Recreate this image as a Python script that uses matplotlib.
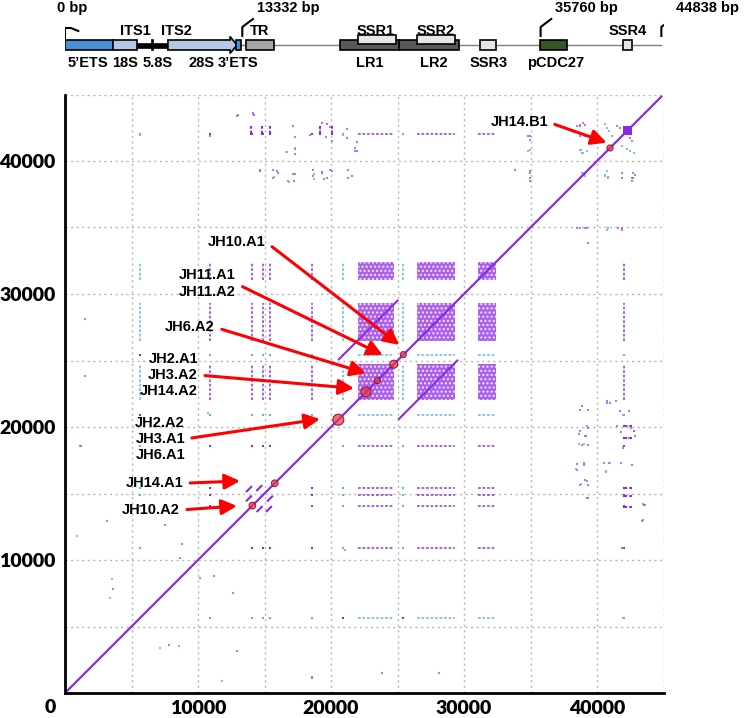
import numpy as np
import matplotlib.pyplot as plt
from matplotlib.patches import Rectangle, Polygon

plt.rcParams['font.family'] = ['Liberation Sans', 'DejaVu Sans']
plt.rcParams['hatch.linewidth'] = 1.0

PURPLE = '#8a2be2'
CYAN = '#5ab4e6'

seq_len = 44838

# rDNA unit map (bp)
feat_name = ["5’ETS", "18S", "ITS1", "5.8S", "ITS2", "28S", "3’ETS", "TR",
             "LR1", "LR2", "SSR1", "SSR2", "SSR3", "pCDC27", "SSR4"]
feat_start = [0, 3610, 5410, 6520, 6640, 7740, 12860, 13610,
              20680, 25110, 22030, 26470, 31200, 35720, 41950]
feat_end = [3610, 5410, 6520, 6640, 7740, 12930, 13230, 15710,
            25110, 29620, 24890, 29320, 32410, 37750, 42630]
flag_bp = [0, 13332, 35760, 44838]
flag_label = ['0 bp', '13332 bp', '35760 bp', '44838 bp']

# self dot plot structures (bp)
ssr_start = [22000, 26470, 31080]
ssr_end = [24750, 29330, 32400]
ssr4_range = [41950, 42630]

dup_x0 = [20600, 25100]
dup_y0 = [25100, 20600]
dup_x1 = [25000, 29500]
dup_y1 = [29500, 25000]

stripe_pos = [5640, 10900, 14060, 14890, 15410, 18570, 20900, 25400, 42000]
stripe_rc = [True, False, False, False, False, False, True, True, False]

tr_range = [13610, 15710]
tr_offsets = [-1500, -800, 800, 1500]

ssr4_hits = [13950, 14800, 15420, 19170, 20050]

scat_p_x = [10900, 12990, 14160, 14210, 17170, 17300, 18420, 19300, 19680, 21180,
            21180, 21810, 21940, 14660, 15660, 16040, 15660, 16790, 17170, 18670,
            18670, 19300, 19680, 19930, 21300, 21300, 33840, 34970, 34970, 38730,
            38980, 42490, 42610, 41860, 41860, 42740, 42740, 42610, 38480, 39230,
            41610, 41860, 38530, 39030, 39280, 38650, 39150, 39280, 39280, 38900,
            40530, 40910, 41530, 42280, 42410, 41790, 42540, 42790, 43540, 43410,
            41910, 41410, 40780, 1130, 3130, 3630, 8770, 10150, 12660, 18550,
            28120, 23860, 34840, 43640]
scat_p_y = [41940, 43470, 43640, 43470, 42640, 41810, 41960, 42830, 42750, 42390,
            41760, 41010, 40760, 39330, 39330, 39130, 38750, 38500, 39050, 39330,
            38880, 39130, 38750, 39330, 39330, 38700, 39310, 39100, 38700, 42640,
            42830, 41760, 41510, 39130, 38700, 39130, 38750, 38500, 34990, 34990,
            34990, 34990, 17200, 17320, 15940, 19450, 19330, 20080, 14690, 21580,
            17270, 17320, 20080, 20080, 19200, 19650, 19950, 19700, 14140, 12930,
            10930, 21960, 21830, 18570, 12930, 7800, 11180, 8670, 7540, 1230,
            1480, 1480, 41890, 43640]
scat_c_x = [5640, 20930, 17300, 16670, 34840, 38730, 38980, 40610, 40730, 41860,
            42240, 40730, 40610, 40860, 38870, 39120, 40860, 38400, 38780, 38650,
            39030, 40660, 3510, 3380, 10780, 880]
scat_c_y = [41940, 41940, 40960, 40700, 40760, 40810, 40630, 42770, 42510, 41130,
            40890, 39250, 38880, 38800, 39130, 39010, 34990, 16820, 15690, 18700,
            18700, 16620, 8550, 7170, 21030, 11800]

# mapped reads on the diagonal
hit_pos = [40980, 25440, 24720, 23490, 22640, 20550, 15770, 14090]

ann_text = ['JH14.B1', 'JH10.A1', 'JH11.A1\nJH11.A2', 'JH6.A2',
            'JH2.A1\nJH3.A2\nJH14.A2', 'JH2.A2\nJH3.A1\nJH6.A1', 'JH14.A1', 'JH10.A2']
ann_tip_x = [40730, 25140, 23890, 22630, 21730, 19170, 13160, 12930]
ann_tip_y = [41380, 26170, 25410, 24040, 22910, 20600, 15940, 14060]

fig = plt.figure(figsize=(7.48, 7.18), dpi=100)

# ---- dot plot ----
ax = fig.add_axes([65 / 748, 1 - 693 / 718, 598.5 / 748, 598.5 / 718])
ax.set_xlim(0, 45000)
ax.set_ylim(0, 45000)
ticks = np.arange(0, 45001, 5000)
ax.set_xticks(ticks)
ax.set_yticks(ticks)
labs = [str(t) if t % 10000 == 0 and t > 0 else '' for t in ticks]
tfont = dict(fontfamily='Lato', fontweight='heavy', fontsize=14)
ax.set_xticklabels(labs, **tfont)
ax.set_yticklabels(labs, **tfont)
ax.tick_params(axis='x', length=0, pad=5)
ax.tick_params(axis='y', length=0, pad=7)
ax.text(-0.024, -0.024, '0', transform=ax.transAxes, ha='center', va='center', **tfont)
ax.grid(True, color='#b5b5b5', lw=1, ls=(0, (1.5, 2.5)))
ax.set_axisbelow(True)
for s in ['top', 'right']:
    ax.spines[s].set_visible(False)
for s in ['left', 'bottom']:
    ax.spines[s].set_linewidth(2)

# SSR blocks
for i in range(3):
    for j in range(3):
        w = ssr_end[i] - ssr_start[i]
        h = ssr_end[j] - ssr_start[j]
        ax.add_patch(Rectangle((ssr_start[i], ssr_start[j]), w, h, fc='#9d45e6', ec='none', alpha=0.85))
        ax.add_patch(Rectangle((ssr_start[i], ssr_start[j]), w, h, fill=False, hatch='....',
                               ec='#f2e6fc', lw=0))
ax.add_patch(Rectangle((ssr4_range[0], ssr4_range[0]), ssr4_range[1] - ssr4_range[0],
                       ssr4_range[1] - ssr4_range[0], fc=PURPLE, ec='none'))

# stripes: short repeats found inside SSR blocks
for p, rc in zip(stripe_pos, stripe_rc):
    col = CYAN if rc else PURPLE
    for s, e in zip(ssr_start, ssr_end):
        ax.plot([p, p], [s, e], color=col, lw=1.3, ls=(0, (1.5, 1)), alpha=0.8)
        ax.plot([s, e], [p, p], color=col, lw=1.3, ls=(0, (1.5, 1)), alpha=0.8)
# crossings between stripe positions
for p1, r1 in zip(stripe_pos, stripe_rc):
    for p2, r2 in zip(stripe_pos, stripe_rc):
        if abs(p1 - p2) > 2000:
            ax.plot(p1, p2, 's', ms=2, mew=0, color=CYAN if r1 != r2 else PURPLE)

# TR hits inside SSR4
for p in ssr4_hits:
    ax.plot([p, p], ssr4_range, color=PURPLE, lw=1.5, ls=(0, (2, 1)))
    ax.plot(ssr4_range, [p, p], color=PURPLE, lw=1.5, ls=(0, (2, 1)))

# scattered matches
ax.plot(scat_p_x, scat_p_y, 's', ms=2, mew=0, color='#a855f7', alpha=0.8)
ax.plot(scat_p_y, scat_p_x, 's', ms=2, mew=0, color='#a855f7', alpha=0.8)
ax.plot(scat_c_x, scat_c_y, 's', ms=2, mew=0, color=CYAN, alpha=0.8)
ax.plot(scat_c_y, scat_c_x, 's', ms=2, mew=0, color=CYAN, alpha=0.8)

# TR tandem repeat dashes
for off in tr_offsets:
    x0 = max(tr_range[0], tr_range[0] - off)
    x1 = min(tr_range[1], tr_range[1] - off)
    ax.plot([x0, x1], [x0 + off, x1 + off], color=PURPLE, lw=1.5, ls=(0, (4, 3)))

# LR duplication
for a, b, c, d in zip(dup_x0, dup_y0, dup_x1, dup_y1):
    ax.plot([a, c], [b, d], color=PURPLE, lw=1.5)

# main diagonal
ax.plot([0, seq_len], [0, seq_len], color=PURPLE, lw=1.6)

# read hits
hit_r = [3, 3, 4, 3, 5, 5.5, 3.3, 3.3]
ax.scatter(hit_pos, hit_pos, s=[(2 * r * 0.72) ** 2 for r in hit_r],
           fc=(0.92, 0.22, 0.28, 0.7), ec='#9b1b30', lw=0.8, zorder=5)

# annotations
text_xy = [(36320, 42930), (15110, 33910), (12860, 30790), (11280, 27500),
           (10000, 23910), (9020, 19100), (8890, 15770), (8650, 13760)]
for t, tx, ty, xy in zip(ann_text, ann_tip_x, ann_tip_y, text_xy):
    ax.annotate(t, xy=(tx, ty), xytext=xy, ha='right', va='center', multialignment='right',
                fontsize=10.5, fontweight='bold', linespacing=1.2, zorder=6,
                arrowprops=dict(arrowstyle='-|>', color='red', lw=2.2, mutation_scale=23,
                                shrinkA=3, shrinkB=0, relpos=(1, 0.5)))

# ---- rDNA map ----
mp = fig.add_axes([65 / 748, 1 - 75 / 718, 598.5 / 748, 75 / 718])
mp.set_xlim(0, 45000)
mp.set_ylim(75, 0)
mp.axis('off')

mp.plot([13230, seq_len], [44.5, 44.5], color='#7f7f7f', lw=1)

fill = {"5’ETS": '#4a8fd4', "18S": '#b4c7e7', "5.8S": '#b4c7e7', "3’ETS": '#4a8fd4',
        "TR": '#a6a6a6', "LR1": '#595959', "LR2": '#595959', "SSR1": '#e6e6e6',
        "SSR2": '#e6e6e6', "SSR3": '#e6e6e6', "pCDC27": '#375623', "SSR4": '#e6e6e6'}
for n, s, e in zip(feat_name, feat_start, feat_end):
    if n in ('ITS1', 'ITS2'):
        mp.add_patch(Rectangle((s, 42.5), e - s, 5, fc='black', ec='black', lw=0.5))
    elif n == '28S':
        hs = e - 520
        mp.add_patch(Polygon([(s, 40), (hs, 40), (hs, 36.5), (e, 45), (hs, 53.5), (hs, 50), (s, 50)],
                             fc=fill['18S'], ec='black', lw=1.2, zorder=3))
    elif n in ('SSR1', 'SSR2'):
        mp.add_patch(Rectangle((s, 35), e - s, 9, fc=fill[n], ec='black', lw=1.2, zorder=4))
    else:
        mp.add_patch(Rectangle((s, 40), e - s, 10, fc=fill[n], ec='black', lw=1.2, zorder=3))

mfont = dict(fontsize=10.5, fontweight='bold')
top_lab = ['ITS1', 'ITS2', 'TR', 'SSR1', 'SSR2', 'SSR4']
top_x = [5260, 8350, 14660, 23390, 27900, 42330]
for t, x in zip(top_lab, top_x):
    mp.text(x, 31, t, ha='center', va='center', **mfont)
bot_lab = ["5’ETS", "18S", "5.8S", "28S", "3’ETS", "LR1", "LR2", "SSR3", "pCDC27"]
bot_x = [1730, 4510, 6990, 10230, 13010, 22930, 27750, 31880, 36920]
for t, x in zip(bot_lab, bot_x):
    mp.text(x, 63, t, ha='center', va='center', **mfont)

# position flags
for i, (b, t) in enumerate(zip(flag_bp, flag_label)):
    if i == 0:
        mp.plot([b, b, b + 450, b + 1000], [40, 28, 28, 31], color='black', lw=1.5)
        mp.text(b - 600, 8, t, ha='left', va='center', **mfont)
    else:
        mp.plot([b, b, b + 800], [36, 27, 19], color='black', lw=1.5)
        mp.text(b + 1100, 8, t, ha='left', va='center', **mfont)

fig.savefig('out.png', dpi=100)
